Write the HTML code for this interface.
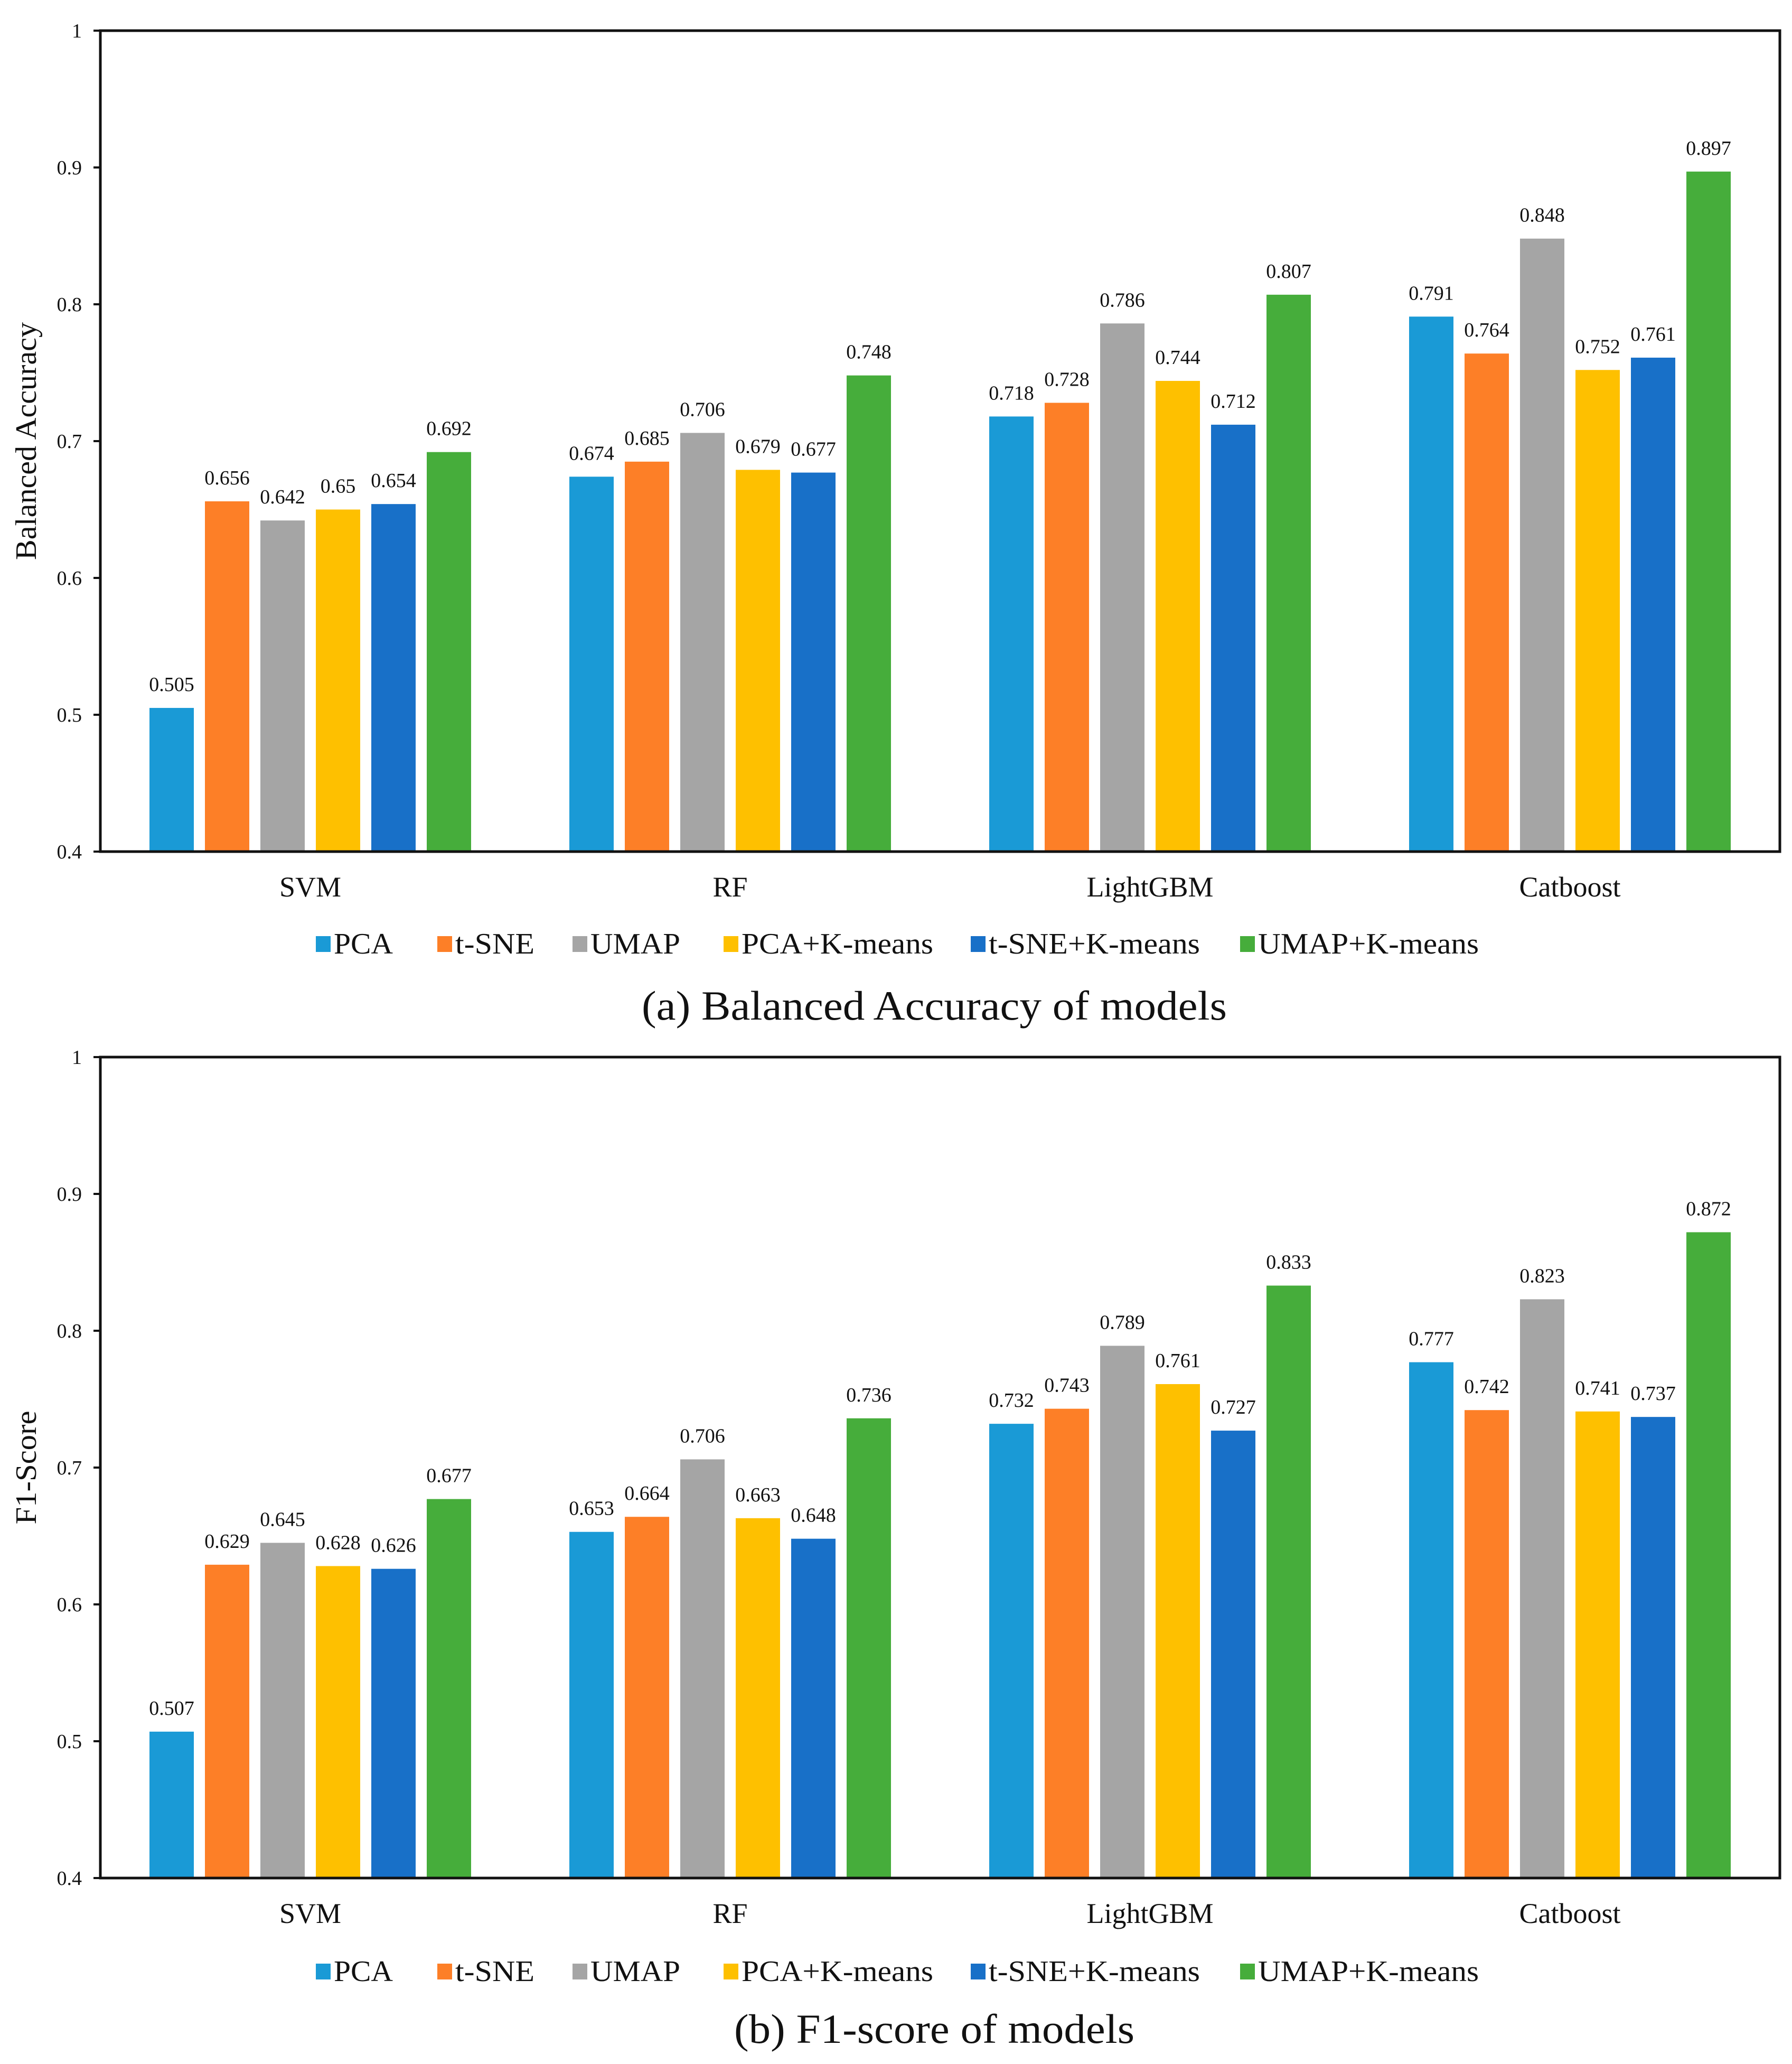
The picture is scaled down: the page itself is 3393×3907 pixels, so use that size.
<!DOCTYPE html>
<html><head><meta charset="utf-8"><style>
html,body{margin:0;padding:0;background:#fff}
svg{display:block}
text{font-family:"Liberation Serif",serif;fill:#111}
</style></head><body>
<svg id="chart" width="3393" height="3907" viewBox="0 0 3393 3907" xmlns="http://www.w3.org/2000/svg"></svg>
<script>
const categories = ["SVM","RF","LightGBM","Catboost"];
const seriesNames = ["PCA","t-SNE","UMAP","PCA+K-means","t-SNE+K-means","UMAP+K-means"];
const seriesColors = ["#1a9ad6","#fd7f27","#a5a5a5","#fec000","#1870c8","#46ad3b"];
const yTicks = [0.4,0.5,0.6,0.7,0.8,0.9,1];
const yTickLabels = ["0.4","0.5","0.6","0.7","0.8","0.9","1"];
// Balanced accuracy: rows = series, columns = categories
const baPCA = [0.505,0.674,0.718,0.791];
const baTSNE = [0.656,0.685,0.728,0.764];
const baUMAP = [0.642,0.706,0.786,0.848];
const baPCAK = [0.65,0.679,0.744,0.752];
const baTSNEK = [0.654,0.677,0.712,0.761];
const baUMAPK = [0.692,0.748,0.807,0.897];
const baLabels = [["0.505","0.674","0.718","0.791"],["0.656","0.685","0.728","0.764"],["0.642","0.706","0.786","0.848"],["0.65","0.679","0.744","0.752"],["0.654","0.677","0.712","0.761"],["0.692","0.748","0.807","0.897"]];
// F1-score
const f1PCA = [0.507,0.653,0.732,0.777];
const f1TSNE = [0.629,0.664,0.743,0.742];
const f1UMAP = [0.645,0.706,0.789,0.823];
const f1PCAK = [0.628,0.663,0.761,0.741];
const f1TSNEK = [0.626,0.648,0.727,0.737];
const f1UMAPK = [0.677,0.736,0.833,0.872];
const f1Labels = [["0.507","0.653","0.732","0.777"],["0.629","0.664","0.743","0.742"],["0.645","0.706","0.789","0.823"],["0.628","0.663","0.761","0.741"],["0.626","0.648","0.727","0.737"],["0.677","0.736","0.833","0.872"]];

const NS = "http://www.w3.org/2000/svg";
const svg = document.getElementById("chart");
function mk(tag, attrs, parent){
  const e = document.createElementNS(NS, tag);
  for (const k in attrs) e.setAttribute(k, attrs[k]);
  (parent||svg).appendChild(e);
  return e;
}
const L = 190, R = 3370;
function drawChart(key, top, bottom, values, labels, yTitle, yTitleLen, catY, legY, capY, caption, capLen){
  const g = mk("g", {});
  
  
  const yScale = v => bottom - (v - 0.4) / 0.6 * (bottom - top);
  const bandW = (R - L) / categories.length;
  const xCenter = i => L + bandW * (i + 0.5);
  const pitch = 105, bw = 84;
  values.forEach((arr, s) => {
    arr.forEach((v, c) => {
      const x = xCenter(c) - 2.5 * pitch - bw / 2 + s * pitch;
      const y = yScale(v);
      const r = mk("rect", {x:x, y:y, width:bw, height:bottom - y, fill:seriesColors[s]}, g);
      
      
      const t = mk("text", {x:x + bw/2, y:y - 32, "text-anchor":"middle", "font-size":38}, g);
      t.textContent = labels[s][c];
      
      
    });
  });
  const fr = mk("rect", {x:L, y:top, width:R-L, height:bottom-top, fill:"none", stroke:"#111", "stroke-width":5}, g);
  
  
  yTicks.forEach((v, i) => {
    const y = yScale(v);
    mk("line", {x1:L-13, x2:L, y1:y, y2:y, stroke:"#111", "stroke-width":4}, g);
    const t = mk("text", {x:155, y:y + 13, "text-anchor":"end", "font-size":38}, g);
    t.textContent = yTickLabels[i];
    
    
  });
  categories.forEach((c, i) => {
    const t = mk("text", {x:xCenter(i), y:catY, "text-anchor":"middle", "font-size":54}, g);
    t.textContent = c;
    
    
  });
  const midY = (top + bottom) / 2;
  const yt = mk("text", {x:0, y:0, "text-anchor":"middle", "font-size":56, textLength:yTitleLen, lengthAdjust:"spacingAndGlyphs", transform:"translate(68," + midY + ") rotate(-90)"}, g);
  yt.textContent = yTitle;
  
  
  const legX = [598, 828, 1084, 1370, 1838, 2348];
  const legW = [112, 150, 170, 363, 400, 418];
  seriesNames.forEach((n, i) => {
    const sq = mk("rect", {x:legX[i], y:legY - 33, width:28, height:30, fill:seriesColors[i]}, g);
    
    
    const t = mk("text", {x:legX[i] + 34, y:legY, "font-size":56, textLength:legW[i], lengthAdjust:"spacingAndGlyphs"}, g);
    t.textContent = n;
    
    
  });
  const cp = mk("text", {x:1769, y:capY, "text-anchor":"middle", "font-size":78, textLength:capLen, lengthAdjust:"spacingAndGlyphs"}, g);
  cp.textContent = caption;
  
  
}
drawChart("balanced-accuracy", 58, 1612, [baPCA,baTSNE,baUMAP,baPCAK,baTSNEK,baUMAPK], baLabels, "Balanced Accuracy", 450, 1697, 1805, 1930, "(a) Balanced Accuracy of models", 1108);
drawChart("f1-score", 2001, 3555, [f1PCA,f1TSNE,f1UMAP,f1PCAK,f1TSNEK,f1UMAPK], f1Labels, "F1-Score", 215, 3640, 3750, 3867, "(b) F1-score of models", 758);
</script>
</body></html>
